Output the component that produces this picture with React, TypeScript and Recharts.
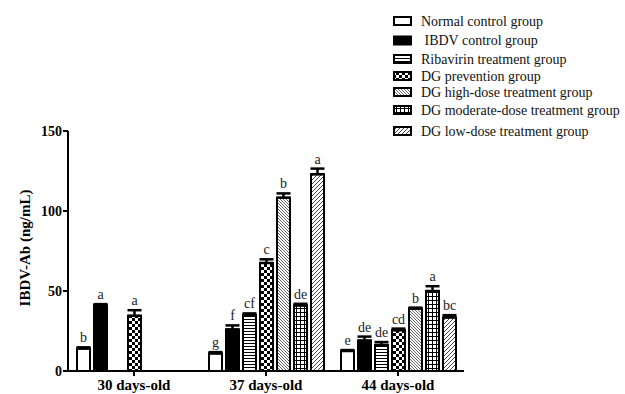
import React from 'react';
import { BarChart, Bar, XAxis, YAxis, ErrorBar, LabelList } from 'recharts';

const categories = ['30 days-old', '37 days-old', '44 days-old'];
const seriesNames = [
  'Normal control group',
  ' IBDV control group',
  'Ribavirin treatment group',
  'DG prevention group',
  'DG high-dose treatment group',
  'DG moderate-dose treatment group',
  'DG low-dose treatment group',
];
const normalVals = [14, 11, 12.5];
const ibdvVals = [41, 26, 19];
const ribavirinVals = [null, 35, 16.3];
const preventionVals = [34.5, 67.5, 25.5];
const highVals = [null, 108.3, 39];
const moderateVals = [null, 41, 50];
const lowVals = [null, 123, 33.5];

const normalErr = [0.8, 0.8, 0.6];
const ibdvErr = [0.8, 2.5, 2.5];
const ribavirinErr = [0, 1, 1.8];
const preventionErr = [3.5, 2.3, 1];
const highErr = [0, 2.7, 0.6];
const moderateErr = [0, 1, 3];
const lowErr = [0, 3.5, 1.4];

const normalLetters = ['b', 'g', 'e'];
const ibdvLetters = ['a', 'f', 'de'];
const ribavirinLetters = ['', 'cf', 'de'];
const preventionLetters = ['a', 'c', 'cd'];
const highLetters = ['', 'b', 'b'];
const moderateLetters = ['', 'de', 'a'];
const lowLetters = ['', 'a', 'bc'];

const yTicks = [0, 50, 100, 150];

const keys = ['normal', 'ibdv', 'ribavirin', 'prevention', 'high', 'moderate', 'low'];
const valArrays = [normalVals, ibdvVals, ribavirinVals, preventionVals, highVals, moderateVals, lowVals];
const errArrays = [normalErr, ibdvErr, ribavirinErr, preventionErr, highErr, moderateErr, lowErr];
const letterArrays = [normalLetters, ibdvLetters, ribavirinLetters, preventionLetters, highLetters, moderateLetters, lowLetters];
const fills = ['#ffffff', '#000000', 'url(#pRib)', 'url(#pPrev)', 'url(#pHigh)', 'url(#pMod)', 'url(#pLow)'];

const data = categories.map((c, i) => {
  const row: any = { cat: c };
  keys.forEach((k, s) => {
    row[k] = valArrays[s][i];
    row[k + 'E'] = errArrays[s][i];
    row[k + 'L'] = letterArrays[s][i];
  });
  return row;
});

const SERIF = '"Liberation Serif", "Times New Roman", serif';

const renderLetter = (props: any) => {
  const { x, y, width, height, value } = props;
  if (!value || typeof value !== 'string') return null;
  const [letter, errS, valS] = value.split('|');
  const v = parseFloat(valS);
  const err = parseFloat(errS) || 0;
  if (!letter || !v) return null;
  const errPx = (err * Math.abs(height)) / v;
  return (
    <text
      x={x + width / 2}
      y={y - errPx - 5}
      textAnchor="middle"
      fontFamily={SERIF}
      fontSize={14}
      fill="#222"
    >
      {letter}
    </text>
  );
};

const renderYLabel = (props: any) => {
  const { viewBox } = props;
  const cx = viewBox.x - 13;
  const cy = viewBox.y + viewBox.height / 2 - 3;
  return (
    <text
      x={cx}
      y={cy}
      transform={`rotate(-90, ${cx}, ${cy})`}
      textAnchor="middle"
      dominantBaseline="central"
      fontFamily={SERIF}
      fontSize={15}
      fontWeight="bold"
      fill="#000"
    >
      IBDV-Ab (ng/mL)
    </text>
  );
};

const legendCenters = [21, 40.5, 59, 76, 92, 110, 131];

export default function App() {
  return (
    <div style={{ position: 'absolute', left: 0, top: 0, width: 625, height: 394, background: '#fff' }}>
      <svg
        width={625}
        height={145}
        style={{ position: 'absolute', left: 0, top: 0, pointerEvents: 'none' }}
      >
        <defs>
          <pattern id="pRib" width={4} height={3} patternUnits="userSpaceOnUse">
            <rect width={4} height={3} fill="#fff" />
            <line x1={0} y1={1.5} x2={4} y2={1.5} stroke="#000" strokeWidth={1} />
          </pattern>
          <pattern id="pPrev" width={6} height={6} patternUnits="userSpaceOnUse">
            <rect width={6} height={6} fill="#fff" />
            <rect x={0} y={0} width={3} height={3} fill="#000" />
            <rect x={3} y={3} width={3} height={3} fill="#000" />
          </pattern>
          <pattern id="pHigh" width={3} height={3} patternUnits="userSpaceOnUse">
            <rect width={3} height={3} fill="#fff" />
            <path d="M0,0 L3,3 M-1,2 L1,4 M2,-1 L4,1" stroke="#444" strokeWidth={0.8} />
          </pattern>
          <pattern id="pMod" width={4} height={4} patternUnits="userSpaceOnUse">
            <rect width={4} height={4} fill="#fff" />
            <path d="M0,0.5 L4,0.5 M0.5,0 L0.5,4" stroke="#000" strokeWidth={1} />
          </pattern>
          <pattern id="pLow" width={4} height={4} patternUnits="userSpaceOnUse">
            <rect width={4} height={4} fill="#fff" />
            <path d="M0,4 L4,0 M-1,1 L1,-1 M3,5 L5,3" stroke="#333" strokeWidth={0.9} />
          </pattern>
        </defs>
        {seriesNames.map((n, i) => (
          <g key={n}>
            <rect
              x={394}
              y={legendCenters[i] - 4}
              width={17}
              height={8}
              fill={fills[i]}
              stroke="#000"
              strokeWidth={2}
            />
            <text
              x={421}
              y={legendCenters[i]}
              dominantBaseline="central"
              fontFamily={SERIF}
              fontSize={14}
              fill="#111"
              style={{ whiteSpace: 'pre' }}
            >
              {n}
            </text>
          </g>
        ))}
      </svg>
      <BarChart
        width={625}
        height={394}
        data={data}
        margin={{ top: 131, right: 161, bottom: 0, left: 38 }}
        barSize={13}
        barGap={4}
        style={{ position: 'absolute', left: 0, top: 0 }}
      >
        <XAxis
          dataKey="cat"
          height={23}
          axisLine={{ stroke: '#000', strokeWidth: 2 }}
          tickLine={{ stroke: '#000', strokeWidth: 2 }}
          tickSize={5}
          tickMargin={3}
          tick={{ fill: '#000', fontFamily: SERIF, fontSize: 15, fontWeight: 'bold' }}
        />
        <YAxis
          width={30}
          domain={[0, 150]}
          ticks={yTicks}
          interval={0}
          axisLine={{ stroke: '#000', strokeWidth: 2 }}
          tickLine={{ stroke: '#000', strokeWidth: 2 }}
          tickSize={5}
          tickMargin={1}
          tick={{ fill: '#000', fontFamily: SERIF, fontSize: 14, fontWeight: 'bold' }}
          label={{ content: renderYLabel }}
        />
        {keys.map((k, s) => (
          <Bar
            key={k}
            dataKey={k}
            name={seriesNames[s]}
            fill={fills[s]}
            stroke="#000"
            strokeWidth={2}
            isAnimationActive={false}
          >
            <ErrorBar
              dataKey={(d: any) => (d[k] == null ? [0, 0] : [0, d[k + 'E']])}
              width={7}
              stroke="#000"
              strokeWidth={2.5}
              direction="y"
            />
            <LabelList
              dataKey={(d: any) => (d[k] == null || !d[k + 'L'] ? '' : `${d[k + 'L']}|${d[k + 'E']}|${d[k]}`)}
              content={renderLetter}
            />
          </Bar>
        ))}
      </BarChart>
    </div>
  );
}
